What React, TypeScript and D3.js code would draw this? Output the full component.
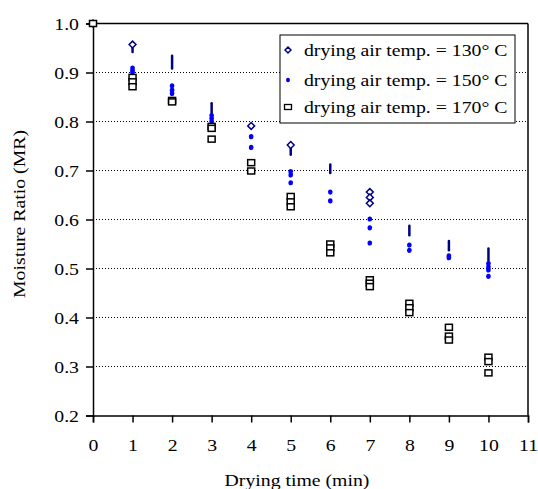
import * as d3 from "d3";
import React, { useRef, useEffect } from "react";

// drying time ticks (min)
const xTicks = [0, 1, 2, 3, 4, 5, 6, 7, 8, 9, 10, 11];
const yTicks = [0.2, 0.3, 0.4, 0.5, 0.6, 0.7, 0.8, 0.9, 1.0];

// 130 C replicates drawn as diamonds: [time, MR]
const mr130 = [
  [0, 1.0], [1, 0.957], [4, 0.791], [5, 0.752],
  [7, 0.656], [7, 0.645], [7, 0.633],
];
// 130 C replicates that pile up into a streak: [time, low MR, high MR]
const mr130Spread = [
  [1, 0.942, 0.955], [2, 0.908, 0.934], [3, 0.81, 0.837], [5, 0.732, 0.75],
  [6, 0.695, 0.712], [8, 0.568, 0.587], [9, 0.537, 0.556], [10, 0.516, 0.541],
];
// 150 C replicates: [time, MR]
const mr150 = [
  [0, 1.0],
  [1, 0.909], [1, 0.904], [1, 0.9],
  [2, 0.873], [2, 0.864], [2, 0.857],
  [3, 0.812], [3, 0.806], [3, 0.8],
  [4, 0.769], [4, 0.747],
  [5, 0.698], [5, 0.691], [5, 0.675],
  [6, 0.656], [6, 0.638],
  [7, 0.601], [7, 0.583], [7, 0.552],
  [8, 0.548], [8, 0.537],
  [9, 0.526], [9, 0.522],
  [10, 0.51], [10, 0.503], [10, 0.497], [10, 0.484],
];
// 170 C replicates: [time, MR]
const mr170 = [
  [0, 1.0],
  [1, 0.89], [1, 0.881], [1, 0.871],
  [2, 0.843], [2, 0.84],
  [3, 0.79], [3, 0.786], [3, 0.764],
  [4, 0.716], [4, 0.699],
  [5, 0.647], [5, 0.636], [5, 0.626],
  [6, 0.55], [6, 0.542], [6, 0.532],
  [7, 0.477], [7, 0.47], [7, 0.463],
  [8, 0.429], [8, 0.42], [8, 0.41],
  [9, 0.38], [9, 0.362], [9, 0.354],
  [10, 0.319], [10, 0.31], [10, 0.287],
];
const legendLabels = [
  "drying air temp. = 130° C",
  "drying air temp. = 150° C",
  "drying air temp. = 170° C",
];

const width = 538;
const height = 489;
const margin = { left: 93, right: 10, top: 23.5, bottom: 73.5 };
const font = '"Liberation Serif", "DejaVu Serif", serif';
const navy = "#000080";
const blue = "#0000ff";
const stretch = 1.13; // the original type runs a bit wider than Liberation Serif

// widen text along its own direction without moving its anchor
const widen = (sel) => {
  sel.each(function () {
    const t = d3.select(this);
    const x0 = +(t.attr("x") || 0);
    const tr = t.attr("transform") || "";
    t.attr("x", x0 / stretch).attr("transform", `${tr} scale(${stretch},1)`);
  });
};

function App() {
  const ref = useRef(null);

  useEffect(() => {
    const svg = d3.select(ref.current);
    svg.selectAll("*").remove();

    const x = d3.scaleLinear().domain([0, 11]).range([margin.left, width - margin.right]);
    const y = d3.scaleLinear().domain([0.2, 1.0]).range([height - margin.bottom, margin.top]);

    // dotted gridlines
    svg.append("g")
      .selectAll("line")
      .data(yTicks.filter((d) => d > 0.25 && d < 0.95))
      .enter()
      .append("line")
      .attr("x1", x(0))
      .attr("x2", x(11))
      .attr("y1", (d) => y(d))
      .attr("y2", (d) => y(d))
      .attr("stroke", "#000")
      .attr("stroke-width", 1)
      .attr("stroke-dasharray", "1,2");

    // top and right frame
    svg.append("line")
      .attr("x1", x(0)).attr("x2", x(11))
      .attr("y1", y(1)).attr("y2", y(1))
      .attr("stroke", "#000").attr("stroke-width", 1.5);
    svg.append("line")
      .attr("x1", x(11)).attr("x2", x(11))
      .attr("y1", y(1)).attr("y2", y(0.2))
      .attr("stroke", "#000").attr("stroke-width", 1.5);

    const xAxis = d3.axisBottom(x).tickValues(xTicks).tickSize(7).tickPadding(16).tickFormat(d3.format("d"));
    const yAxis = d3.axisLeft(y).tickValues(yTicks).tickSize(7).tickPadding(7).tickFormat(d3.format(".1f"));

    const gx = svg.append("g").attr("transform", `translate(0, ${y(0.2)})`).call(xAxis);
    const gy = svg.append("g").attr("transform", `translate(${x(0)}, 0)`).call(yAxis);
    [gx, gy].forEach((g) => {
      g.attr("font-family", null).attr("font-size", null);
      g.select(".domain").attr("stroke", "#000").attr("stroke-width", 1.5);
      g.selectAll(".tick line").attr("stroke", "#000").attr("stroke-width", 1.5);
      g.selectAll(".tick text").attr("fill", "#000").call(widen);
    });

    // axis titles
    svg.append("text")
      .attr("x", 297)
      .attr("y", 486)
      .attr("text-anchor", "middle")
      .text("Drying time (min)")
      .call(widen);
    svg.append("text")
      .attr("transform", `translate(25, 214) rotate(-90)`)
      .attr("text-anchor", "middle")
      .text("Moisture Ratio (MR)")
      .call(widen);

    const diamond = d3.symbol().type(d3.symbolDiamond2).size(30);

    // 130 C streaks
    svg.append("g")
      .selectAll("line")
      .data(mr130Spread)
      .enter()
      .append("line")
      .attr("x1", (d) => x(d[0]))
      .attr("x2", (d) => x(d[0]))
      .attr("y1", (d) => y(d[1]))
      .attr("y2", (d) => y(d[2]))
      .attr("stroke", navy)
      .attr("stroke-width", 2.5)
      .attr("stroke-linecap", "round");

    // 150 C dots
    svg.append("g")
      .selectAll("ellipse")
      .data(mr150)
      .enter()
      .append("ellipse")
      .attr("cx", (d) => x(d[0]))
      .attr("cy", (d) => y(d[1]))
      .attr("rx", 2.3)
      .attr("ry", 2.6)
      .attr("fill", blue);

    // 130 C diamonds
    svg.append("g")
      .selectAll("path")
      .data(mr130)
      .enter()
      .append("path")
      .attr("d", diamond)
      .attr("transform", (d) => `translate(${x(d[0])}, ${y(d[1])})`)
      .attr("fill", "#fff")
      .attr("stroke", navy)
      .attr("stroke-width", 1.5);

    // 170 C squares
    svg.append("g")
      .selectAll("rect")
      .data(mr170)
      .enter()
      .append("rect")
      .attr("x", (d) => x(d[0]) - 3.5)
      .attr("y", (d) => y(d[1]) - 3)
      .attr("width", 7)
      .attr("height", 6)
      .attr("fill", "#fff")
      .attr("stroke", "#000")
      .attr("stroke-width", 1.5);

    // legend
    const lg = svg.append("g").attr("transform", "translate(280, 35)");
    lg.append("rect")
      .attr("width", 235)
      .attr("height", 88)
      .attr("fill", "#fff")
      .attr("stroke", "#000")
      .attr("stroke-width", 1);
    const rowY = [15, 45, 72];
    lg.append("path")
      .attr("d", d3.symbol().type(d3.symbolDiamond2).size(22))
      .attr("transform", `translate(8, ${rowY[0]})`)
      .attr("fill", "#fff").attr("stroke", navy).attr("stroke-width", 1.5);
    lg.append("ellipse")
      .attr("cx", 8).attr("cy", rowY[1]).attr("rx", 2).attr("ry", 2.2)
      .attr("fill", blue);
    lg.append("rect")
      .attr("x", 4.5).attr("y", rowY[2] - 2.5).attr("width", 7).attr("height", 5)
      .attr("fill", "#fff").attr("stroke", "#000").attr("stroke-width", 1.3);
    lg.selectAll("text.lbl")
      .data(legendLabels)
      .enter()
      .append("text")
      .attr("class", "lbl")
      .attr("x", 24)
      .attr("y", (d, i) => rowY[i])
      .attr("dy", "0.35em")
      .text((d) => d)
      .call(widen);
  }, []);

  return (
    <div>
      <style>{`body{margin:0;background:#fff} svg text{font-family:${font};font-size:17.5px;fill:#000}`}</style>
      <svg ref={ref} width={width} height={height} style={{ display: "block" }}></svg>
    </div>
  );
}

export default App;
